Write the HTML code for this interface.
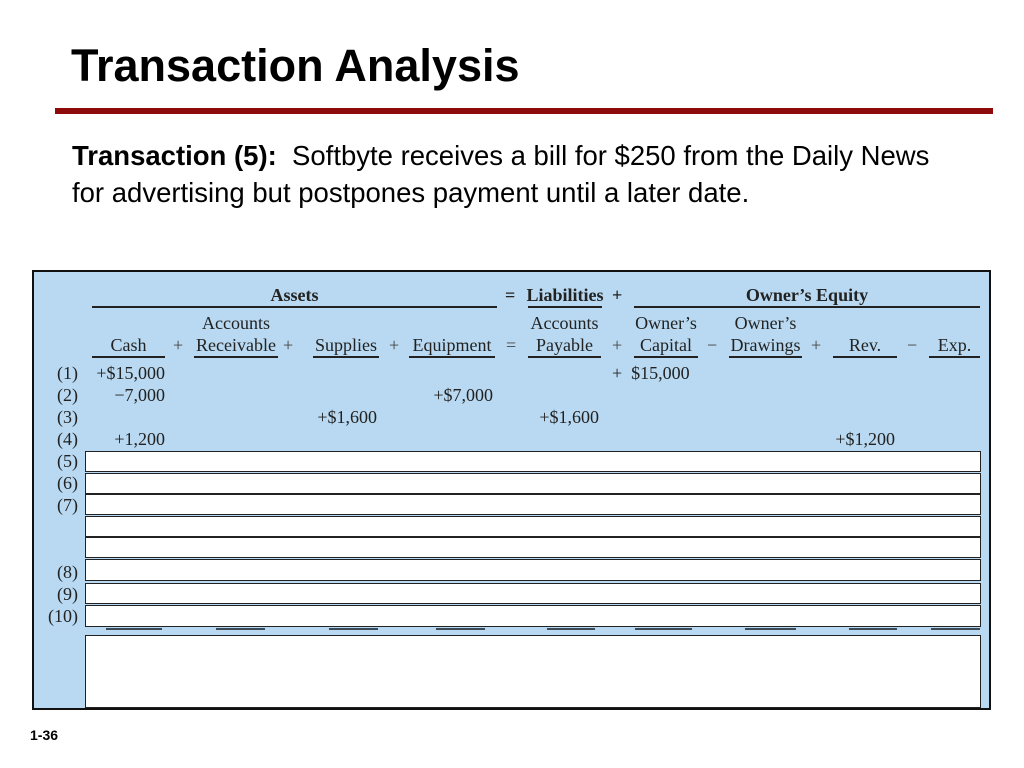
<!DOCTYPE html>
<html><head><meta charset="utf-8"><style>
body{margin:0;width:1024px;height:768px;background:#fff;position:relative;overflow:hidden;font-family:"Liberation Sans",sans-serif}
.a{position:absolute}
.s{font-family:"Liberation Serif",serif;font-size:18px;color:#222;white-space:nowrap;line-height:20px}
.u{position:absolute;height:2px;background:#222}
.w{position:absolute;left:85px;width:894px;background:#fff;border:1.5px solid #222}
.c{text-align:center}
.r{text-align:right}
</style></head><body>
<div class="a" style="left:71px;top:40px;font-size:45px;font-weight:bold;color:#000">Transaction Analysis</div>
<div class="a" style="left:55px;top:108px;width:938px;height:6px;background:#8e0b0b"></div>
<div class="a" style="left:72px;top:137px;font-size:27.5px;line-height:37px;color:#000;white-space:nowrap">
<b>Transaction (5):</b>&nbsp; Softbyte receives a bill for $250 from the Daily News<br>for advertising but postpones payment until a later date.</div>

<div class="a" style="left:32px;top:270px;width:955px;height:436px;background:#b8d9f1;border:2.5px solid #111">
</div>
<div id="t">
<div class="a s c" style="left:92px;width:405px;top:285px;font-weight:bold">Assets</div>
<div class="u" style="left:92px;width:405px;top:306px"></div>
<div class="a s" style="left:505px;top:285px;font-weight:bold">=</div>
<div class="a s c" style="left:522px;width:86px;top:285px;font-weight:bold">Liabilities</div>
<div class="u" style="left:528px;width:74px;top:306px"></div>
<div class="a s" style="left:612px;top:285px;font-weight:bold">+</div>
<div class="a s c" style="left:634px;width:346px;top:285px;font-weight:bold">Owner’s Equity</div>
<div class="u" style="left:634px;width:346px;top:306px"></div>
</div>
<script>
const cols=[["","Cash",92,73],["Accounts","Receivable",194,84],["","Supplies",313,66],["","Equipment",409,86],["Accounts","Payable",528,73],["Owner’s","Capital",634,64],["Owner’s","Drawings",729,73],["","Rev.",833,64],["","Exp.",929,51]];
const ops=[["+",178],["+",288],["+",394],["=",511],["+",617],["−",712],["+",816],["−",912]];
const rowLabels=["(1)","(2)","(3)","(4)","(5)","(6)","(7)","(8)","(9)","(10)"];
const rowY=[363,385,407,429,451,473,495,562,584,606];
const entries=[[0,0,"+$15,000"],[0,5,"+  $15,000"],[1,0,"−7,000"],[1,3,"+$7,000"],[2,2,"+$1,600"],[2,4,"+$1,600"],[3,0,"+1,200"],[3,7,"+$1,200"]];
const totals=[[106,56],[216,49],[329,49],[436,49],[547,48],[635,57],[745,51],[849,48],[931,49]];
const T=document.getElementById('t');
function mk(cls,style,txt,name){const d=document.createElement('div');d.className=cls;d.style.cssText=style;if(txt!=null)d.textContent=txt;


T.appendChild(d);return d;}
cols.forEach(c=>{
 if(c[0])mk('a s c',`left:${c[2]-8}px;width:${c[3]+16}px;top:313px`,c[0],'column-header-top');
 mk('a s c',`left:${c[2]-8}px;width:${c[3]+16}px;top:335px`,c[1],'column-header');
 mk('u',`left:${c[2]}px;width:${c[3]}px;top:356px`,null,'column-rule');
});
ops.forEach(o=>mk('a s',`left:${o[1]-5}px;top:335px;color:#444`,o[0],'operator'));
[451,473,494,516,537,559,583,605].forEach((y,i)=>mk('w',`top:${y}px;height:${i==5||i==7?20:19}px`,null,'blank-row'));
mk('w',`top:635px;height:71px`,null,'blank-total-box');
rowLabels.forEach((l,i)=>mk('a s r',`left:30px;width:48px;top:${rowY[i]}px`,l,'row-label'));
entries.forEach(e=>{const c=cols[e[1]];
 const right=e[1]==0?165:c[2]+c[3]-2;
 if(e[1]==5)mk('a s',`left:612px;top:${rowY[e[0]]}px;white-space:pre`,e[2],'entry-value');
 else mk('a s r',`left:${right-110}px;width:110px;top:${rowY[e[0]]}px`,e[2],'entry-value');
});
totals.forEach(t=>mk('u',`left:${t[0]}px;width:${t[1]}px;top:628px;background:#3c4a55`,null,'total-rule'));
</script>
<div class="a" style="left:30px;top:727px;font-size:14px;font-weight:bold;color:#000">1-36</div>
</body></html>
